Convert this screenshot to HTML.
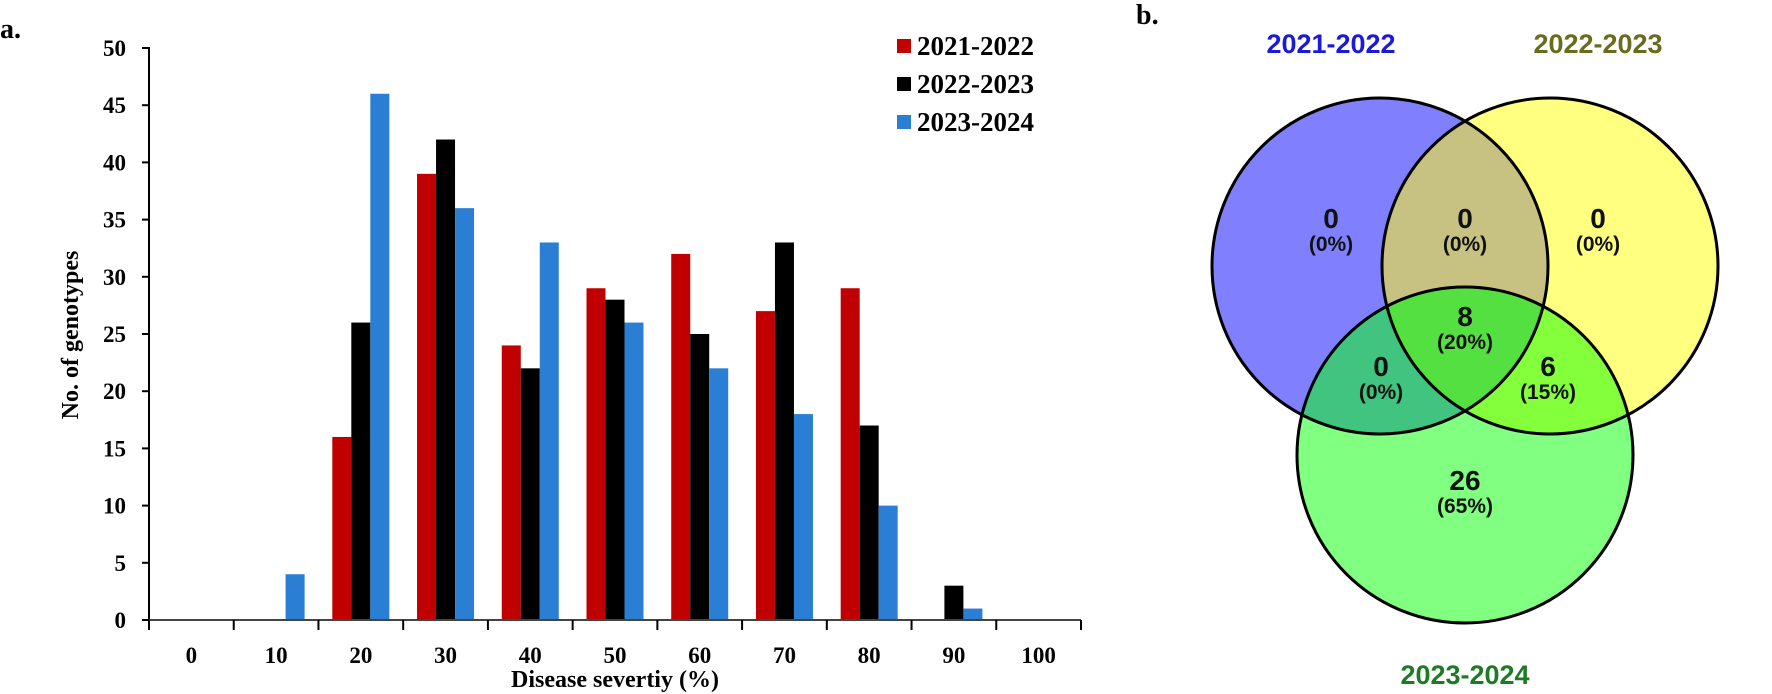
<!DOCTYPE html>
<html><head><meta charset="utf-8"><style>
html,body{margin:0;padding:0;background:#fff;width:1772px;height:694px;overflow:hidden}
svg{display:block}
.s{font-family:"Liberation Serif",serif;font-weight:bold;fill:#000}
.a{font-family:"Liberation Sans",sans-serif;font-weight:bold}
</style></head><body>
<svg id="fig" width="1772" height="694">
<text class="s" x="0" y="38" font-size="28">a.</text>
<text class="s" x="1136" y="24" font-size="28">b.</text>
<g id="chart"></g>
<g id="venn"></g>
</svg>
<script>
const categories=[0,10,20,30,40,50,60,70,80,90,100];
const s2021=[0,0,16,39,24,29,32,27,29,0,0];
const s2022=[0,0,26,42,22,28,25,33,17,3,0];
const s2023=[0,4,46,36,33,26,22,18,10,1,0];
const yTicks=[0,5,10,15,20,25,30,35,40,45,50];
const seriesNames=['2021-2022','2022-2023','2023-2024'];
const NS='http://www.w3.org/2000/svg';
const X0=149,X1=1081,Y0=620,Y50=48,catW=(X1-X0)/categories.length,barW=19;
const y=v=>Y0-(v/50)*(Y0-Y50);
const xc=i=>X0+catW*(i+0.5);
const g=document.getElementById('chart');
function mk(tag,attrs,parent){const e=document.createElementNS(NS,tag);for(const k in attrs)e.setAttribute(k,attrs[k]);(parent||g).appendChild(e);return e;}
const colors=['#c00000','#000000','#2a7fd4'];
[s2021,s2022,s2023].forEach((ser,si)=>{ser.forEach((v,i)=>{if(v<=0)return;
const r=mk('rect',{x:xc(i)-1.5*barW+si*barW,y:y(v),width:barW,height:Y0-y(v),fill:colors[si]});

});});
let ax=mk('line',{x1:X0,y1:Y50-1,x2:X0,y2:Y0,stroke:'#000','stroke-width':2});

ax=mk('line',{x1:X0,y1:Y0,x2:X1,y2:Y0,stroke:'#444','stroke-width':2});

yTicks.forEach(t=>{mk('line',{x1:X0-7,y1:y(t),x2:X0,y2:y(t),stroke:'#000','stroke-width':2});
const tx=mk('text',{x:126,y:y(t)+8,'text-anchor':'end','font-size':23,class:'s'});tx.textContent=t;
});
for(let i=0;i<=categories.length;i++)mk('line',{x1:X0+catW*i,y1:Y0,x2:X0+catW*i,y2:Y0+10,stroke:'#000','stroke-width':2});
categories.forEach((c,i)=>{const tx=mk('text',{x:xc(i),y:663,'text-anchor':'middle','font-size':23,class:'s'});tx.textContent=c;
});
let t=mk('text',{x:615,y:687,'text-anchor':'middle','font-size':24,class:'s'});t.textContent='Disease severtiy (%)';

t=mk('text',{x:0,y:0,'text-anchor':'middle','font-size':24,class:'s',transform:'translate(78,335) rotate(-90)'});t.textContent='No. of genotypes';

seriesNames.forEach((n,i)=>{const cy=46+i*38;
const lg=mk('g',{});
mk('rect',{x:897,y:cy-7,width:14,height:14,fill:colors[i]},lg);
const tt=mk('text',{x:917,y:cy+9,'font-size':27,class:'s'},lg);tt.textContent=n;});

// Venn
const vg=document.getElementById('venn');
const R=168,B={x:1380,y:266},Yc={x:1550,y:266},G={x:1465,y:455};
const defs=mk('defs',{},vg);
[['cb',B],['cy',Yc],['cg',G]].forEach(([id,c])=>{const cp=mk('clipPath',{id},defs);mk('circle',{cx:c.x,cy:c.y,r:R},cp);});
mk('circle',{cx:B.x,cy:B.y,r:R,fill:'#8080ff'},vg);
mk('circle',{cx:Yc.x,cy:Yc.y,r:R,fill:'#ffff80'},vg);
mk('circle',{cx:G.x,cy:G.y,r:R,fill:'#80ff80'},vg);
mk('circle',{cx:Yc.x,cy:Yc.y,r:R,fill:'#c8c282','clip-path':'url(#cb)'},vg);
mk('circle',{cx:G.x,cy:G.y,r:R,fill:'#40c480','clip-path':'url(#cb)'},vg);
mk('circle',{cx:G.x,cy:G.y,r:R,fill:'#84ff3c','clip-path':'url(#cy)'},vg);
const gi=mk('g',{'clip-path':'url(#cb)'},vg);mk('circle',{cx:G.x,cy:G.y,r:R,fill:'#54e040','clip-path':'url(#cy)'},gi);
[[B,'circle-2021-2022'],[Yc,'circle-2022-2023'],[G,'circle-2023-2024']].forEach(([c,n])=>{const e=mk('circle',{cx:c.x,cy:c.y,r:R,fill:'none',stroke:'#000','stroke-width':3},vg);});
[['2021-2022',1331,53,'#1a1ad8'],['2022-2023',1598,53,'#6b6b1e'],['2023-2024',1465,684,'#1e7a24']].forEach(([n,x,yy,c])=>{const e=mk('text',{x,y:yy,'text-anchor':'middle','font-size':27,class:'a',fill:c},vg);e.textContent=n;});
[['0','(0%)',1331,228],['0','(0%)',1465,228],['0','(0%)',1598,228],['8','(20%)',1465,326],['0','(0%)',1381,376],['6','(15%)',1548,376],['26','(65%)',1465,490]].forEach(([n,p,x,yy])=>{
const e=mk('text',{x,y:yy,'text-anchor':'middle','font-size':28,class:'a',fill:'#111'},vg);e.textContent=n;
const f=mk('text',{x,y:yy+23,'text-anchor':'middle','font-size':21,class:'a',fill:'#111'},vg);f.textContent=p;});
</script>
</body></html>
